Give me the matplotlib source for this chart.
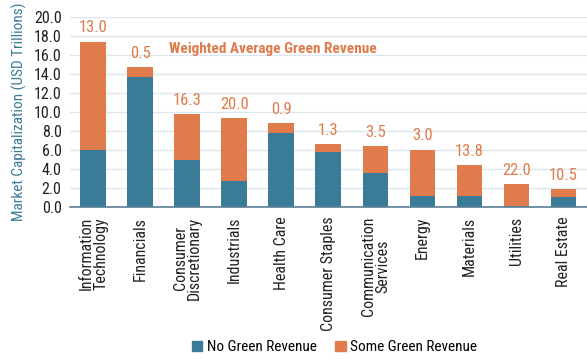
import numpy as np
import matplotlib
matplotlib.use("Agg")
import matplotlib.pyplot as plt
from matplotlib.patches import Patch

plt.rcParams['font.family'] = ['Roboto Condensed', 'Liberation Sans Narrow', 'Roboto', 'DejaVu Sans']

sectors = ["Information\nTechnology", "Financials", "Consumer\nDiscretionary", "Industrials",
           "Health Care", "Consumer Staples", "Communication\nServices", "Energy",
           "Materials", "Utilities", "Real Estate"]
no_green = [6.0, 13.7, 4.9, 2.75, 7.75, 5.8, 3.6, 1.15, 1.2, 0.15, 1.1]
total = [17.4, 14.7, 9.75, 9.35, 8.8, 6.65, 6.45, 6.05, 4.4, 2.45, 1.85]
green_avg = ["13.0", "0.5", "16.3", "20.0", "0.9", "1.3", "3.5", "3.0", "13.8", "22.0", "10.5"]

some_green = [t - n for t, n in zip(total, no_green)]

blue = '#3a7b98'
orange = '#e07b4b'

fig = plt.figure(figsize=(5.87, 3.6), dpi=100)
ax = fig.add_axes([0.119, 0.425, 0.881, 0.528])

x = np.arange(len(sectors))
ax.bar(x, no_green, width=0.55, color=blue, zorder=3)
ax.bar(x, some_green, bottom=no_green, width=0.55, color=orange, zorder=3)

for i in range(len(x)):
    ax.text(x[i], total[i] + 0.65, green_avg[i], ha='center', va='bottom',
            color=orange, fontsize=12)

ax.text(1.6, 16.6, "Weighted Average Green Revenue", color=orange,
        fontsize=11, fontweight='bold', ha='left', va='center')

ax.set_xlim(-0.5, len(sectors) - 0.5)
ax.set_ylim(0, 20)
ax.set_yticks(np.arange(0, 20.1, 2))
ax.set_yticklabels([f"{v:.1f}" for v in np.arange(0, 20.1, 2)])
ax.set_xticks(x)
ax.set_xticklabels(sectors, rotation=90, fontsize=11.5, color='#222222', linespacing=0.95)
ax.tick_params(axis='y', labelsize=11.5, colors='#222222', length=0, pad=6)
ax.tick_params(axis='x', length=0, pad=7)
ax.grid(axis='y', color='#dce6ee', linewidth=1.0, zorder=0)
for s in ['top', 'right', 'left']:
    ax.spines[s].set_visible(False)
ax.spines['bottom'].set_color('#5a7f95')
ax.spines['bottom'].set_linewidth(1.2)
ax.spines['bottom'].set_zorder(4)

ax.set_ylabel("Market Capitalization (USD Trillions)", color=blue, fontsize=11, labelpad=5)

handles = [Patch(color=blue, label="No Green Revenue"), Patch(color=orange, label="Some Green Revenue")]
fig.legend(handles=handles, loc='center', bbox_to_anchor=(0.57, 0.035), ncol=2, frameon=False,
           fontsize=11, handlelength=0.7, handleheight=0.7, handletextpad=0.3, columnspacing=1.2)

fig.savefig("out.png", dpi=100)
